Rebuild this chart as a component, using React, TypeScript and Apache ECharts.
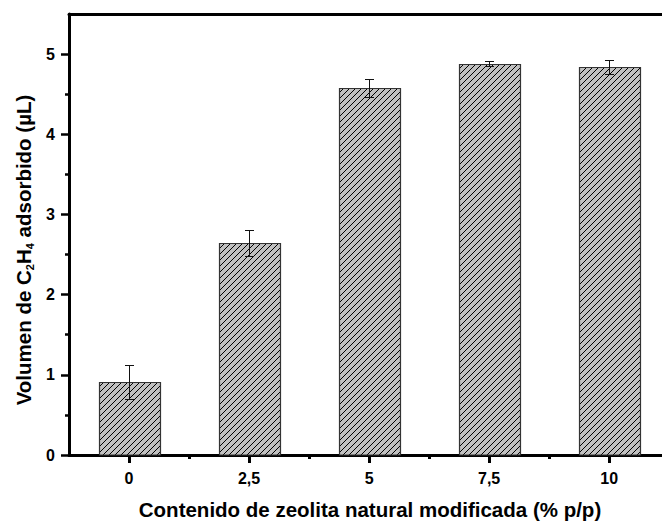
import React, { useEffect, useRef } from "react";
import * as echarts from "echarts";

const xValues = [0, 2.5, 5, 7.5, 10];
const xTickLabels = ["0", "2,5", "5", "7,5", "10"];
const xMinorTicks = [1.25, 3.75, 6.25, 8.75];
const volumes = [0.91, 2.64, 4.58, 4.88, 4.84];
const errors = [0.21, 0.16, 0.11, 0.03, 0.09];
const yTicks = [0, 1, 2, 3, 4, 5];
const yMinorTicks = [0.5, 1.5, 2.5, 3.5, 4.5];

const FONT = 'Arial, "Liberation Sans", sans-serif';
const BAR_W = 1.27;
const HATCH = 6;

export default function App() {
  const ref = useRef<HTMLDivElement>(null);
  useEffect(() => {
    if (!ref.current) return;
    const chart = echarts.init(ref.current, null, { renderer: "svg" });
    const data = xValues.map((x, i) => [x, volumes[i], errors[i]]);

    const renderItem = (params: any, api: any) => {
      const x = api.value(0);
      const v = api.value(1);
      const e = api.value(2);
      const base = api.coord([x, 0]);
      const top = api.coord([x, v]);
      const hw = api.size([BAR_W, 0])[0] / 2;
      const cx = Math.round(base[0]) + 0.5;
      const x0 = Math.round(cx - hw) + 0.5;
      const x1 = Math.round(cx + hw) + 0.5;
      const y0 = Math.round(top[1]) + 0.5;
      const y1 = base[1];
      const children: any[] = [];
      children.push({
        type: "rect",
        shape: { x: x0, y: y0, width: x1 - x0, height: y1 - y0 },
        style: { fill: "#c0c0c0", stroke: null },
      });
      const cStart = Math.ceil((x0 + y0) / HATCH) * HATCH;
      for (let c = cStart; c <= x1 + y1; c += HATCH) {
        const xa = Math.max(x0, c - y1);
        const xb = Math.min(x1, c - y0);
        if (xb <= xa) continue;
        children.push({
          type: "line",
          shape: { x1: xa, y1: c - xa, x2: xb, y2: c - xb },
          style: { stroke: "#000", lineWidth: 1 },
        });
      }
      children.push({
        type: "rect",
        shape: { x: x0, y: y0, width: x1 - x0, height: y1 - y0 },
        style: { fill: null, stroke: "#333", lineWidth: 1.2 },
      });
      const eTop = Math.round(api.coord([x, v + e])[1]) + 0.5;
      const eBot = Math.round(api.coord([x, v - e])[1]) + 0.5;
      const cap = 4.5;
      children.push({
        type: "line",
        shape: { x1: cx, y1: eTop, x2: cx, y2: eBot },
        style: { stroke: "#111", lineWidth: 1 },
      });
      children.push({
        type: "line",
        shape: { x1: cx - cap, y1: eTop, x2: cx + cap, y2: eTop },
        style: { stroke: "#111", lineWidth: 1 },
      });
      children.push({
        type: "line",
        shape: { x1: cx - cap, y1: eBot, x2: cx + cap, y2: eBot },
        style: { stroke: "#111", lineWidth: 1 },
      });
      return { type: "group", children };
    };

    const yMin = 0;
    const yMax = 5.5;
    const xMin = -1.25;
    const xMax = 11.1;

    chart.setOption({
      animation: false,
      grid: { left: 69, right: 0, top: 14, bottom: 67 },
      xAxis: [
        {
          type: "value",
          min: xMin,
          max: xMax,
          position: "bottom",
          splitLine: { show: false },
          axisLine: { show: true, onZero: false, lineStyle: { color: "#000", width: 3 } },
          axisTick: {
            show: true,
            customValues: xValues,
            length: 8,
            inside: false,
            lineStyle: { color: "#000", width: 3 },
          },
          axisLabel: {
            customValues: xValues,
            formatter: (val: number) => {
              const i = xValues.indexOf(val);
              return i >= 0 ? xTickLabels[i] : "";
            },
            color: "#000",
            fontSize: 16,
            fontWeight: "bold",
            fontFamily: FONT,
            margin: 15,
          },
        },
        {
          type: "value",
          min: xMin,
          max: xMax,
          position: "bottom",
          splitLine: { show: false },
          axisLine: { show: false, onZero: false },
          axisTick: {
            show: true,
            customValues: xMinorTicks,
            length: 4,
            lineStyle: { color: "#000", width: 3 },
          },
          axisLabel: { show: false },
        },
        {
          type: "value",
          min: xMin,
          max: xMax,
          position: "top",
          splitLine: { show: false },
          axisLine: { show: true, onZero: false, lineStyle: { color: "#000", width: 3 } },
          axisTick: { show: false },
          axisLabel: { show: false },
        },
      ],
      yAxis: [
        {
          type: "value",
          min: yMin,
          max: yMax,
          position: "left",
          splitLine: { show: false },
          axisLine: { show: true, onZero: false, lineStyle: { color: "#000", width: 3 } },
          axisTick: {
            show: true,
            customValues: yTicks,
            length: 8,
            lineStyle: { color: "#000", width: 2.5 },
          },
          axisLabel: {
            customValues: yTicks,
            color: "#000",
            fontSize: 16,
            fontWeight: "bold",
            fontFamily: FONT,
            margin: 14,
          },
        },
        {
          type: "value",
          min: yMin,
          max: yMax,
          position: "left",
          splitLine: { show: false },
          axisLine: { show: false, onZero: false },
          axisTick: {
            show: true,
            customValues: yMinorTicks,
            length: 4,
            lineStyle: { color: "#000", width: 2.5 },
          },
          axisLabel: { show: false },
        },
      ],
      series: [
        {
          type: "custom",
          xAxisIndex: 0,
          yAxisIndex: 0,
          renderItem,
          data,
          clip: false,
        },
      ],
      graphic: [
        {
          type: "text",
          x: 370,
          y: 509,
          style: {
            text: "Contenido de zeolita natural modificada (% p/p)",
            fill: "#000",
            fontSize: 20.5,
            fontWeight: "bold",
            fontFamily: FONT,
            align: "center",
            verticalAlign: "middle",
          },
        },
        {
          type: "text",
          x: 23,
          y: 250,
          rotation: Math.PI / 2,
          style: {
            text: "{a|Volumen de C}{s|2}{a|H}{s|4}{a| adsorbido (µL)}",
            align: "center",
            verticalAlign: "middle",
            rich: {
              a: {
                fontSize: 20.5,
                fontWeight: "bold",
                fontFamily: FONT,
                fill: "#000",
                lineHeight: 24,
              },
              s: {
                fontSize: 11,
                fontWeight: "bold",
                fontFamily: FONT,
                fill: "#000",
                lineHeight: 6,
                verticalAlign: "bottom",
              },
            },
          },
        },
      ],
    });
    return () => chart.dispose();
  }, []);
  return (
    <div
      ref={ref}
      style={{ position: "fixed", left: 0, top: 0, width: 662, height: 522, background: "#fff" }}
    />
  );
}
